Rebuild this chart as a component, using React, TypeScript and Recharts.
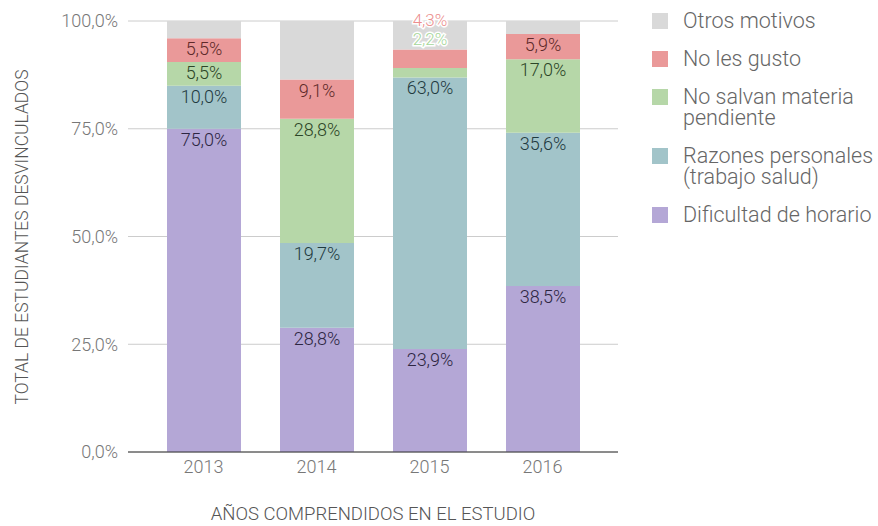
import { BarChart, Bar, XAxis, YAxis, CartesianGrid, LabelList, Label } from 'recharts'

const years = ['2013', '2014', '2015', '2016']
const dificultad = [75.0, 28.8, 23.9, 38.5]
const razones = [10.0, 19.7, 63.0, 35.6]
const noSalvan = [5.5, 28.8, 2.2, 17.0]
const noGusto = [5.5, 9.1, 4.3, 5.9]
const otros = [4.0, 13.6, 6.6, 3.0]
const yTicks = [0, 25, 50, 75, 100]

const series = [
  { key: 'dificultad', name: 'Dificultad de horario', values: dificultad, color: '#b4a7d6', text: '#2d2642', light: '#b4a7d6', label: true },
  { key: 'razones', name: 'Razones personales\n(trabajo salud)', values: razones, color: '#a2c4c9', text: '#1f3a40', light: '#a2c4c9', label: true },
  { key: 'noSalvan', name: 'No salvan materia\npendiente', values: noSalvan, color: '#b6d7a8', text: '#2c4527', light: '#a6d69a', label: true },
  { key: 'noGusto', name: 'No les gusto', values: noGusto, color: '#ea9999', text: '#5e2a2a', light: '#ec8f8f', label: true },
  { key: 'otros', name: 'Otros motivos', values: otros, color: '#d9d9d9', text: '#555', light: '#d9d9d9', label: false },
]

const data = years.map((year, i) => {
  const row: Record<string, string | number> = { year }
  series.forEach((s) => { row[s.key] = s.values[i] })
  return row
})

const pct = (v: number) => v.toFixed(1).replace('.', ',') + '%'
const FONT = 'Roboto'

const makeLabel = (dark: string, light: string) => (props: any) => {
  const { x, y, width, height, value } = props
  const cx = Number(x) + Number(width) / 2
  if (Number(height) < 20) {
    // too small to fit inside: stack the label above the segment, with a white halo
    return (
      <text x={cx} y={Number(y) - 23} textAnchor="middle" fontSize={17} fontWeight={300} fill={light}
        stroke="#fff" strokeWidth={3} paintOrder="stroke" fontFamily={FONT}>
        {pct(Number(value))}
      </text>
    )
  }
  return (
    <text x={cx} y={Number(y) + 17} textAnchor="middle" fontSize={18} fontWeight={300} fill={dark} fontFamily={FONT}>
      {pct(Number(value))}
    </text>
  )
}

export default function App() {
  const legendItems = [...series].reverse()
  return (
    <div style={{ position: 'absolute', left: 0, top: 0, width: 878, height: 526, fontFamily: FONT, background: '#fff' }}>
      <BarChart width={878} height={526} data={data} margin={{ top: 21, right: 260, bottom: 0, left: 0 }}>
        <CartesianGrid vertical={false} stroke="#cccccc" />
        <XAxis dataKey="year" padding={{ left: 19, right: 19 }} tickLine={false} axisLine={{ stroke: '#333' }}
          tick={{ fill: '#777', fontSize: 18, fontWeight: 300, fontFamily: FONT }} height={74}>
          <Label value="AÑOS COMPRENDIDOS EN EL ESTUDIO" position="insideBottom" offset={6}
            style={{ fill: '#555', fontSize: 18.5, fontWeight: 300, fontFamily: FONT }} />
        </XAxis>
        <YAxis type="number" domain={[0, 100]} ticks={yTicks} allowDataOverflow tickFormatter={pct}
          tickLine={false} axisLine={false} width={128} tickMargin={4}
          tick={{ fill: '#777', fontSize: 18, fontWeight: 300, fontFamily: FONT }}>
          <Label content={() => (
            <text x={22} y={237} transform="rotate(-90 22 237)" textAnchor="middle" dominantBaseline="central"
              fill="#555" fontSize={17.5} fontWeight={300} fontFamily={FONT}>
              TOTAL DE ESTUDIANTES DESVINCULADOS
            </text>
          )} />
        </YAxis>
        {series.map((s) => (
          <Bar key={s.key} dataKey={s.key} name={s.name} stackId="a" fill={s.color} barSize={74} isAnimationActive={false}>
            {s.label && <LabelList dataKey={s.key} content={makeLabel(s.text, s.light)} />}
          </Bar>
        ))}
      </BarChart>
      <div style={{ position: 'absolute', left: 652, top: 10, width: 226 }}>
        {legendItems.map((s) => (
          <div key={s.key} style={{ display: 'flex', alignItems: 'flex-start', marginBottom: 17 }}>
            <div style={{ width: 16, height: 16, background: s.color, marginTop: 3, marginRight: 15, flexShrink: 0 }} />
            <div style={{ whiteSpace: 'pre-line', fontSize: 21.5, fontWeight: 300, lineHeight: '21px', color: '#666' }}>{s.name}</div>
          </div>
        ))}
      </div>
    </div>
  )
}
